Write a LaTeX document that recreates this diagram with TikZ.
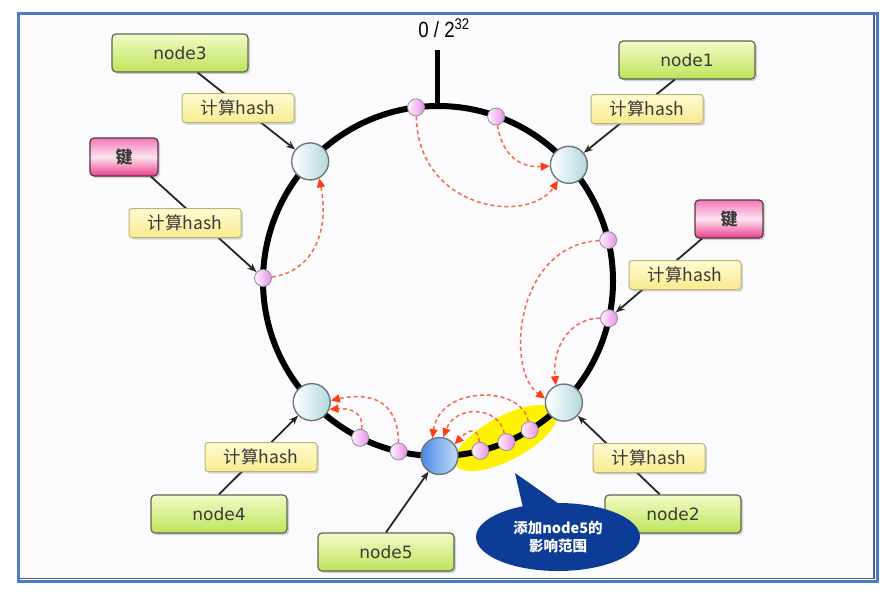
\documentclass[tikz,border=0pt]{standalone}
\usepackage{fontspec}
\setmainfont{DejaVu Sans}
\newfontfamily\cjk{Noto Sans CJK SC}
\newfontfamily\narrowfont[FakeStretch=0.85]{Liberation Sans}
\usetikzlibrary{arrows.meta,shadows,shapes.geometric}
\definecolor{frameblue}{HTML}{4A7BD0}
\definecolor{framegray}{HTML}{5A5E66}
\definecolor{gtop}{HTML}{F3FBC8}
\definecolor{gbot}{HTML}{BFE35A}
\definecolor{boxedge}{HTML}{5C6652}
\definecolor{txtgray}{HTML}{3A3A3A}
\definecolor{htop}{HTML}{FFFBD2}
\definecolor{hbot}{HTML}{F7EB8E}
\definecolor{hedge}{HTML}{BDB27A}
\definecolor{ktop}{HTML}{F27AB8}
\definecolor{kmid}{HTML}{FDE4F1}
\definecolor{kbot}{HTML}{EC3D8C}
\definecolor{kedge}{HTML}{5A3442}
\definecolor{nodeedge}{HTML}{6C777C}
\definecolor{nodecyan}{HTML}{B2D8DC}
\definecolor{bluel}{HTML}{4A88E4}
\definecolor{bluer}{HTML}{C4DEF8}
\definecolor{pinkr}{HTML}{EA8EE8}
\definecolor{pinkl}{HTML}{FFF2FD}
\definecolor{dashred}{HTML}{F26A4A}
\definecolor{tipred}{HTML}{FF3A14}
\definecolor{hlyellow}{HTML}{FFF200}
\definecolor{callblue}{HTML}{0D3C96}
\definecolor{innerbg}{HTML}{FBFBFE}
\begin{document}
\begin{tikzpicture}[x=1pt,y=-1pt,
  greenbox/.style={rounded corners=4pt, draw=boxedge, line width=1.2pt,
    top color=gtop, bottom color=gbot, minimum width=136, minimum height=38,
    font=\fontsize{17}{19}\selectfont, text=txtgray,
    drop shadow={shadow xshift=2pt, shadow yshift=-2pt, opacity=0.35}},
  hashbox/.style={rounded corners=3pt, draw=hedge, line width=1pt,
    top color=htop, bottom color=hbot, minimum width=112, minimum height=29,
    inner sep=0pt, font=\cjk\fontsize{17.5}{19}\selectfont, text=txtgray,
    drop shadow={shadow xshift=2pt, shadow yshift=-2pt, opacity=0.3}},
  keybox/.style={rounded corners=4pt, draw=kedge, line width=1.2pt,
    top color=ktop, bottom color=kbot, middle color=kmid,
    minimum width=68, minimum height=38,
    font=\cjk\bfseries\fontsize{17}{19}\selectfont, text=txtgray,
    drop shadow={shadow xshift=2pt, shadow yshift=-2pt, opacity=0.35}},
  hnode/.style={circle, minimum size=37, inner sep=0pt, draw=nodeedge,
    line width=1.4pt, left color=white, right color=nodecyan},
  newnode/.style={hnode, left color=bluel, right color=bluer},
  kdot/.style={circle, minimum size=17, inner sep=0pt, draw=nodeedge!80,
    line width=0.8pt, left color=pinkl, right color=pinkr},
  rarrow/.style={draw=dashred, line width=1.5pt, dash pattern=on 4pt off 3pt,
    -{Triangle[length=9pt,width=8pt,color=tipred]}},
  barrow/.style={draw=black!85, line width=1.8pt,
    -{Stealth[length=9pt,width=7pt]}}
]
\useasboundingbox (0,0) rectangle (880,608);
\fill[white] (0,0) rectangle (880,608);
% frame
\draw[frameblue, line width=3pt, fill=innerbg] (18,13) rectangle (877,581);
\draw[framegray, line width=1.5pt] (874,15) -- (874,578.5) -- (20,578.5);

% highlight
\node[ellipse, fill=hlyellow, minimum width=114, minimum height=44, rotate=28] (hl) at (506,438) {};

% ring and zero mark
\draw[line width=6pt] (438,281) circle[radius=175];
\coordinate (tickTop) at (437,50);
\coordinate (tickBot) at (437,107);
\draw[line width=5pt] (tickTop) -- (tickBot);
\node[font=\narrowfont\fontsize{22}{24}\selectfont] (zero) at (444,28) {0 / 2\textsuperscript{32}};

% server nodes on the ring
\node[hnode] (n1) at (568.9,164.8) {};
\node[hnode] (n3) at (310.2,161.4) {};
\node[hnode] (n4) at (311.7,402.1) {};
\node[hnode] (n2) at (563.9,402.6) {};
\node[newnode] (n5) at (439.5,456) {};

% keys on the ring
\node[kdot] (pa) at (416.1,107.4) {};
\node[kdot] (pb) at (496.1,116.5) {};
\node[kdot] (pc) at (608.2,240.1) {};
\node[kdot] (pd) at (609,318.3) {};
\node[kdot] (pe) at (263,278) {};
\node[kdot] (pf) at (360.2,437.8) {};
\node[kdot] (pg) at (398.6,451.5) {};
\node[kdot] (ph) at (480.3,450.8) {};
\node[kdot] (pi) at (506.4,442.1) {};
\node[kdot] (pj) at (529.7,430.1) {};

% red dashed moves
\draw[rarrow] (pa) .. controls (418,210) and (528,225) .. (n1);
\draw[rarrow] (pb) .. controls (502,155) and (520,168) .. (n1);
\draw[rarrow] (pe) .. controls (312,272) and (330,232) .. (n3.-62);
\draw[rarrow] (pc) .. controls (515,245) and (505,370) .. (n2.168);
\draw[rarrow] (pd) .. controls (572,318) and (552,345) .. (n2.115);
\draw[rarrow] (pf) .. controls (364,412) and (350,408) .. (n4.-22);
\draw[rarrow] (pg) .. controls (398,400) and (370,392) .. (n4.5);
\draw[rarrow] (pj) .. controls (522,385) and (440,385) .. (n5.112);
\draw[rarrow] (pi) .. controls (498,405) and (455,405) .. (n5.78);
\draw[rarrow] (ph) .. controls (478,428) and (470,428) .. (n5.38);

% labels boxes
\node[greenbox] (nb3) at (180,53) {node3};
\node[greenbox] (nb1) at (687,60) {node1};
\node[greenbox] (nb4) at (219,514) {node4};
\node[greenbox] (nb2) at (673,514) {node2};
\node[greenbox] (nb5) at (386,552) {node5};
\node[keybox] (kb1) at (124,157) {键};
\node[keybox] (kb2) at (729,219) {键};

% black connectors
\draw[barrow] (nb3.-48) -- (n3);
\draw[barrow] (kb1.-36) -- (pe);
\draw[barrow] (nb1.-122) -- (n1);
\draw[barrow] (kb2.-144) -- (pd);
\draw[barrow] (nb4.north) -- (n4);
\draw[barrow] (nb2.124) -- (n2);
\draw[barrow] (nb5.north) -- (n5);

% hash boxes over the connectors
\node[hashbox] (h3) at (238,108) {计算hash};
\node[hashbox] (hk1) at (185,223) {计算hash};
\node[hashbox] (h1) at (647,109) {计算hash};
\node[hashbox] (hk2) at (685,275) {计算hash};
\node[hashbox] (h4) at (261,457) {计算hash};
\node[hashbox] (h2) at (649,458) {计算hash};

% callout
\coordinate (ctip) at (515,473);
\coordinate (cb1) at (524,512);
\coordinate (cb2) at (562,506);
\fill[callblue] (ctip) -- (cb1) -- (cb2) -- cycle;
\node[ellipse, fill=callblue, minimum width=164, minimum height=68, inner sep=0pt,
  text=white, align=center, font=\cjk\bfseries\fontsize{14.5}{18}\selectfont] (call) at (558,537) {添加node5的\\影响范围};
\end{tikzpicture}
\end{document}
